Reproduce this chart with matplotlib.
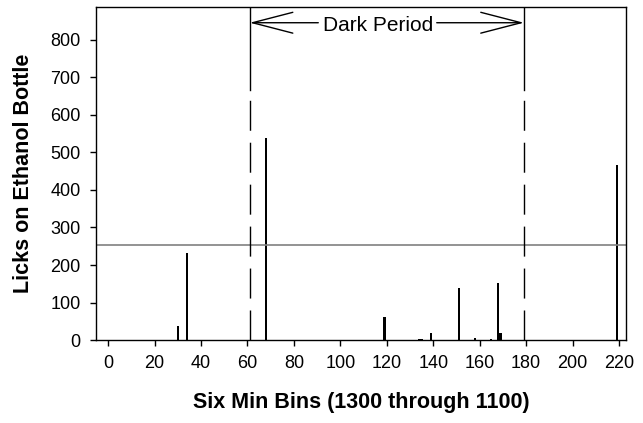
import numpy as np
import matplotlib
matplotlib.use('Agg')
import matplotlib.pyplot as plt

plt.rcParams['font.family'] = ['Liberation Sans', 'DejaVu Sans']

# Licks per six-minute bin (only non-zero bins listed)
bins = [30, 34, 68, 119, 134, 135, 139, 151, 158, 165, 168, 169, 219]
licks = [37, 233, 538, 62, 2, 3, 19, 140, 5, 2, 151, 18, 467]

dark_start = 61
dark_end = 179
reference_level = 253

fig = plt.figure(figsize=(6.43, 4.23), dpi=100)
ax = fig.add_axes([0.1493, 0.1962, 0.8243, 0.7873])

ax.bar(bins, licks, width=1.0, color='black', linewidth=0)

# Horizontal reference line
ax.axhline(reference_level, color='#808080', linewidth=1.2, zorder=1)

# Dark period boundaries
for x in (dark_start, dark_end):
    ax.plot([x, x], [0, 667], color='black', linewidth=1,
            dashes=(21.6, 8.6), zorder=2)
    ax.plot([x, x], [667, 890], color='black', linewidth=1, zorder=2)

arrow_y = 846
ax.text(116.3, 838, 'Dark Period', ha='center', va='center', fontsize=15)
astyle = '->,head_length=2.9,head_width=0.75'
ax.annotate('', xy=(dark_start, arrow_y), xytext=(90.5, arrow_y),
            arrowprops=dict(arrowstyle=astyle, lw=1, color='black',
                            shrinkA=0, shrinkB=0, mutation_scale=10))
ax.annotate('', xy=(dark_end, arrow_y), xytext=(141.5, arrow_y),
            arrowprops=dict(arrowstyle=astyle, lw=1, color='black',
                            shrinkA=0, shrinkB=0, mutation_scale=10))

ax.set_xlim(-5.2, 223)
ax.set_ylim(0, 888)
ax.set_xticks(np.arange(0, 221, 20))
ax.set_yticks(np.arange(0, 801, 100))
ax.tick_params(direction='out', length=4, width=1, labelsize=13, pad=7)

for s in ax.spines.values():
    s.set_linewidth(1)
    s.set_color('black')

ax.set_xlabel('Six Min Bins (1300 through 1100)', fontsize=15.5,
              fontweight='bold', labelpad=14)
ax.set_ylabel('Licks on Ethanol Bottle', fontsize=15.5,
              fontweight='bold', labelpad=12)

fig.savefig('out.png', dpi=100)
